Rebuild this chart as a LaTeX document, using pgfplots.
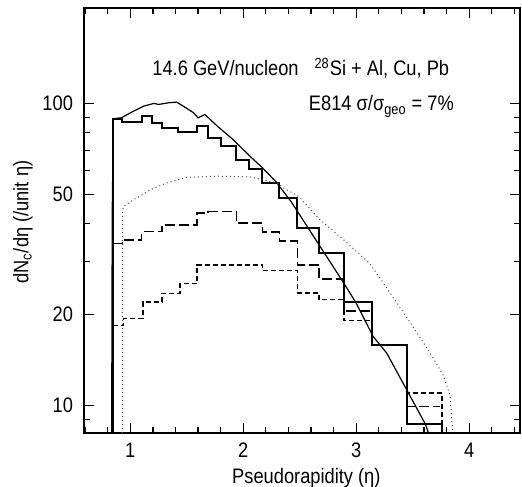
\documentclass[border=0pt]{standalone}
\usepackage{fontspec}
\setmainfont{Liberation Sans}[FakeStretch=0.87]
\usepackage{pgfplots}
\pgfplotsset{compat=1.18}
\usetikzlibrary{calc}
\newcommand\ff{\fontsize{10.5}{12.6}\selectfont}

\begin{document}
\begin{tikzpicture}
\begin{axis}[
  scale only axis,
  width=218pt, height=212.5pt,
  ymode=log,
  xmin=0.59, xmax=4.45,
  ymin=8.1, ymax=207,
  axis line style={line width=0.75pt},
  every tick/.style={black, line width=0.6pt},
  major tick length=5pt, minor tick length=3pt,
  xtick={1,2,3,4},
  minor xtick={0.6,0.8,1.2,1.4,1.6,1.8,2.2,2.4,2.6,2.8,3.2,3.4,3.6,3.8,4.2,4.4},
  ytick={10,20,50,100},
  yticklabels={10,20,50,100},
  minor ytick={9,30,40,60,70,80,90},
  /pgf/number format/assume math mode=true,
  tick label style={font=\ff},
  yticklabel style={xshift=-2pt},
  xticklabel style={yshift=-1.5pt},
  label style={font=\ff},
  xlabel={Pseudorapidity (η)},
  xlabel style={at={(axis description cs:0.51,-0.12)}, anchor=base},
  ylabel={dN\textsubscript{c}/dη (/unit η)},
  ylabel style={at={(axis description cs:-0.14,0.496)}, anchor=center},
]
% Si + Pb (solid histogram)
\addplot[const plot, black, line width=1pt] coordinates {
  (0.85,8.1) (0.85,89) (0.93,86.5) (1.10,90.5) (1.19,86) (1.28,82.6)
  (1.42,80.7) (1.59,84) (1.69,77) (1.80,72) (1.94,65) (2.05,60.8)
  (2.17,54.7) (2.32,48.7) (2.48,38.7) (2.67,32) (2.89,22) (3.14,15.8)
  (3.45,8.7) (3.76,8.7) (3.76,8.1)};
% Si + Cu (long dashes)
\addplot[const plot, black, line width=0.8pt, dash pattern=on 5pt off 2pt] coordinates {
  (0.85,34.4) (0.93,35.3) (1.10,37.6) (1.28,39.6) (1.59,43.3) (1.69,43.8)
  (1.94,40.1) (2.17,37.5) (2.32,35.0) (2.48,29.2) (2.67,26.2) (2.89,20.5)
  (3.14,15.8) (3.45,9.9) (3.74,9.9)};
% Si + Al (short dashes)
\addplot[const plot, black, line width=0.8pt, dash pattern=on 2.5pt off 1.5pt] coordinates {
  (0.85,18.4) (0.94,19.4) (1.11,22.0) (1.28,23.5) (1.44,25.3) (1.59,29.2)
  (2.17,28.0) (2.48,23.6) (2.67,22.4) (2.89,19.1) (3.14,15.8) (3.45,11.0)
  (3.76,11.0) (3.76,8.1)};
% smooth solid curve
\addplot[sharp plot, black, line width=0.6pt] coordinates {
  (0.835,8.1) (0.84,44) (0.85,89) (0.92,89.6) (1.03,94.3) (1.12,98)
  (1.21,100) (1.25,99.2) (1.34,100.5) (1.41,101) (1.49,96.8) (1.56,93.1)
  (1.60,89.6) (1.66,91.9) (1.77,84.1) (1.91,75.9) (2.00,70.3) (2.06,66.8)
  (2.17,61.2) (2.29,55.0) (2.42,47.5) (2.49,43.3) (2.68,33.6) (2.89,25.4)
  (3.00,21.8) (3.15,16.9) (3.27,14.9) (3.45,11.2) (3.61,8.7) (3.64,8.1)};
% dotted curve
\addplot[sharp plot, black!70, line width=0.5pt, dash pattern=on 0.5pt off 1.5pt] coordinates {
  (0.93,8.1) (0.93,43.8) (0.94,45.6) (1.03,48) (1.18,51.8) (1.32,54.5)
  (1.50,56.9) (1.77,57.4) (2.06,57.1) (2.30,54.5) (2.36,52.4) (2.49,49.2)
  (2.68,41.2) (2.89,35.3) (3.12,29.5) (3.31,23.3) (3.49,18.5) (3.64,15.2)
  (3.77,12.6) (3.83,10.8) (3.855,8.1)};
\node[anchor=base west, inner sep=0pt, font=\ff] at (axis description cs:0.156,0.84) {14.6 GeV/nucleon};
\node[anchor=base west, inner sep=0pt, font=\ff] at (axis description cs:0.528,0.84) {\textsuperscript{28}Si + Al, Cu, Pb};
\node[anchor=base west, inner sep=0pt, font=\ff] at (axis description cs:0.515,0.758) {E814 σ/σ\textsubscript{geo} = 7\%};
\end{axis}
\pgfresetboundingbox
\path[use as bounding box] ([xshift=-42pt,yshift=-27pt]current axis.south west) rectangle ([xshift=1pt,yshift=4pt]current axis.north east);
\end{tikzpicture}
\end{document}
